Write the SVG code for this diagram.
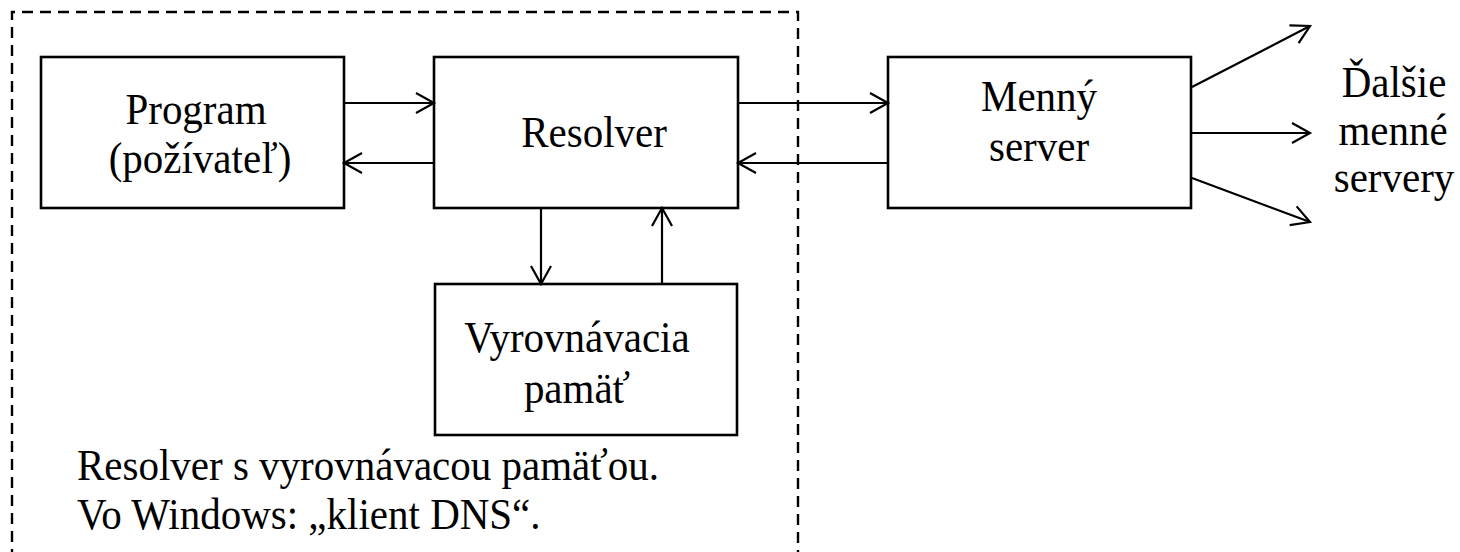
<svg xmlns="http://www.w3.org/2000/svg" width="1460" height="552" viewBox="0 0 1460 552">
<style>
.box{fill:#fff;stroke:#000;stroke-width:2.6}
.ln{fill:none;stroke:#000;stroke-width:2.2;marker-end:url(#ah)}
.t{font-family:"Liberation Serif","Times New Roman",serif;font-size:41px;fill:#000}
.c{text-anchor:middle}
.dash{fill:none;stroke:#000;stroke-width:2.4;stroke-dasharray:11 7}
</style>
<defs>
<marker id="ah" markerUnits="userSpaceOnUse" markerWidth="22" markerHeight="24" viewBox="0 0 22 24" refX="19" refY="12" orient="auto">
<path d="M1,2 L19,12 L1,22" fill="none" stroke="#000" stroke-width="2.2"/>
</marker>
</defs>
<path class="dash" d="M12,560 L12,12 L798,12 L798,560"/>
<g id="program">
<rect class="box" x="41" y="57" width="303" height="151"/>
<text class="t c" transform="translate(196,124) scale(1,1.1)">Program</text>
<text class="t c" transform="translate(200,173) scale(1,1.1)">(požívateľ)</text>
</g>
<g id="resolver">
<rect class="box" x="434" y="57" width="304" height="151"/>
<text class="t c" transform="translate(594,147) scale(1,1.1)">Resolver</text>
</g>
<g id="cache">
<rect class="box" x="435" y="284" width="302" height="151"/>
<text class="t c" transform="translate(577,352) scale(1,1.1)">Vyrovnávacia</text>
<text class="t c" transform="translate(577,403) scale(1,1.1)">pamäť</text>
</g>
<g id="server">
<rect class="box" x="888" y="57" width="303" height="151"/>
<text class="t c" transform="translate(1039,111) scale(1,1.1)">Menný</text>
<text class="t c" transform="translate(1039,161) scale(1,1.1)">server</text>
</g>
<g id="others">
<text class="t c" transform="translate(1394,97) scale(1,1.1)">Ďalšie</text>
<text class="t c" transform="translate(1393,145) scale(1,1.1)">menné</text>
<text class="t c" transform="translate(1394,192) scale(1,1.1)">servery</text>
</g>
<g id="note">
<text class="t" transform="translate(77,480) scale(1,1.1)">Resolver s vyrovnávacou pamäťou.</text>
<text class="t" transform="translate(77,529) scale(1,1.1)">Vo Windows: „klient DNS“.</text>
</g>
<g id="connectors">
<line class="ln" x1="344" y1="103" x2="434" y2="103"/>
<line class="ln" x1="434" y1="163" x2="344" y2="163"/>
<line class="ln" x1="738" y1="103" x2="888" y2="103"/>
<line class="ln" x1="888" y1="163" x2="738" y2="163"/>
<line class="ln" x1="541" y1="208" x2="541" y2="284"/>
<line class="ln" x1="662" y1="284" x2="662" y2="208"/>
<line class="ln" x1="1192" y1="87" x2="1310" y2="26"/>
<line class="ln" x1="1191" y1="133" x2="1310" y2="133"/>
<line class="ln" x1="1192" y1="178" x2="1310" y2="222"/>
</g>
</svg>
